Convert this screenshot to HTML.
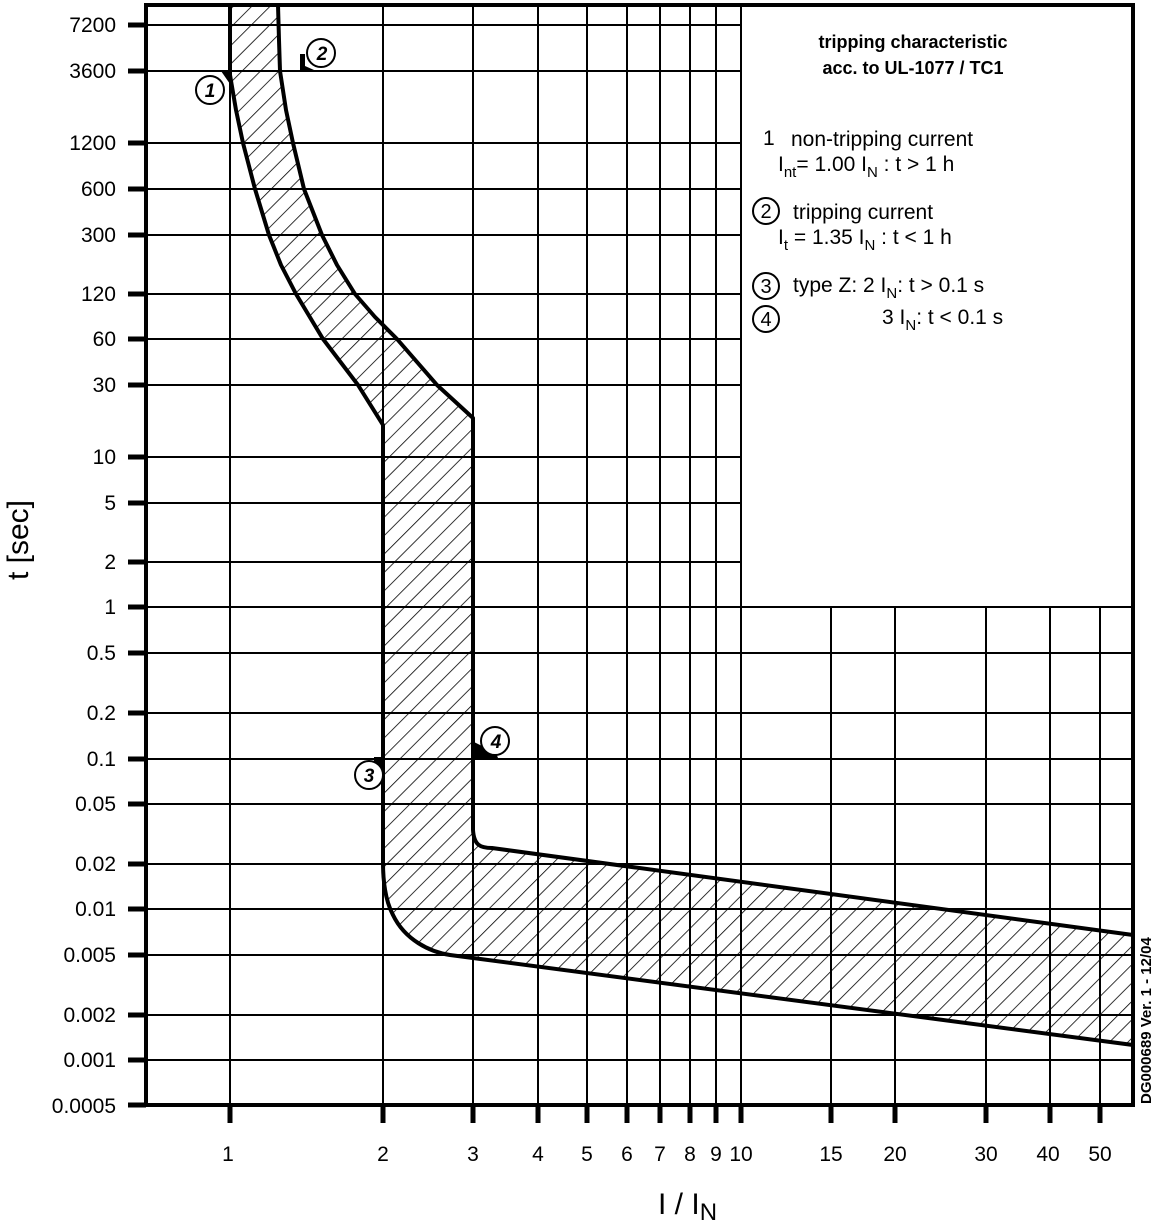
<!DOCTYPE html>
<html><head><meta charset="utf-8"><style>
html,body{margin:0;padding:0;background:#fff;}
svg{display:block;}
text{font-family:"Liberation Sans",sans-serif;fill:#000;}
</style></head><body>
<svg width="1153" height="1223" viewBox="0 0 1153 1223" xmlns="http://www.w3.org/2000/svg">
<defs>
<pattern id="h" patternUnits="userSpaceOnUse" width="13" height="13" patternTransform="rotate(45)">
<line x1="0" y1="0" x2="0" y2="13" stroke="#000" stroke-width="1.6"/>
</pattern>
</defs>
<g stroke="#000" stroke-width="2">
<line x1="146" y1="25" x2="741" y2="25"/>
<line x1="146" y1="71" x2="741" y2="71"/>
<line x1="146" y1="143" x2="741" y2="143"/>
<line x1="146" y1="189" x2="741" y2="189"/>
<line x1="146" y1="235" x2="741" y2="235"/>
<line x1="146" y1="294" x2="741" y2="294"/>
<line x1="146" y1="339" x2="741" y2="339"/>
<line x1="146" y1="385" x2="741" y2="385"/>
<line x1="146" y1="457" x2="741" y2="457"/>
<line x1="146" y1="503" x2="741" y2="503"/>
<line x1="146" y1="562" x2="741" y2="562"/>
<line x1="146" y1="607" x2="1133" y2="607"/>
<line x1="146" y1="653" x2="1133" y2="653"/>
<line x1="146" y1="713" x2="1133" y2="713"/>
<line x1="146" y1="759" x2="1133" y2="759"/>
<line x1="146" y1="804" x2="1133" y2="804"/>
<line x1="146" y1="864" x2="1133" y2="864"/>
<line x1="146" y1="909" x2="1133" y2="909"/>
<line x1="146" y1="955" x2="1133" y2="955"/>
<line x1="146" y1="1015" x2="1133" y2="1015"/>
<line x1="146" y1="1060" x2="1133" y2="1060"/>
<line x1="230" y1="5" x2="230" y2="1105"/>
<line x1="383" y1="5" x2="383" y2="1105"/>
<line x1="473" y1="5" x2="473" y2="1105"/>
<line x1="538" y1="5" x2="538" y2="1105"/>
<line x1="587" y1="5" x2="587" y2="1105"/>
<line x1="627" y1="5" x2="627" y2="1105"/>
<line x1="660" y1="5" x2="660" y2="1105"/>
<line x1="690" y1="5" x2="690" y2="1105"/>
<line x1="716" y1="5" x2="716" y2="1105"/>
<line x1="741" y1="5" x2="741" y2="1105"/>
<line x1="831" y1="607" x2="831" y2="1105"/>
<line x1="895" y1="607" x2="895" y2="1105"/>
<line x1="986" y1="607" x2="986" y2="1105"/>
<line x1="1050" y1="607" x2="1050" y2="1105"/>
<line x1="1100" y1="607" x2="1100" y2="1105"/>
</g>
<path d="M278,5 L279,40 L280,71 L286,110 L293,143 L304,189 L322,235 L337,265 L355,294 L375,317 L397,339 L437,385 L473,418 L473,830 C474,845 480,848 492,848 L1133,935 L1133,1045 L450,955 C430,952 405,940 393,915 C385,900 383,880 383,862 L383,425 L358,385 L323,339 L296,294 L281,265 L269,235 L255,189 L243,143 L236,110 L230,75 L230,5 Z" fill="url(#h)" stroke="none"/>
<path d="M278,5 L279,40 L280,71 L286,110 L293,143 L304,189 L322,235 L337,265 L355,294 L375,317 L397,339 L437,385 L473,418 L473,830 C474,845 480,848 492,848 L1133,935" fill="none" stroke="#000" stroke-width="4" stroke-linejoin="round"/>
<path d="M230,5 L230,75 L236,110 L243,143 L255,189 L269,235 L281,265 L296,294 L323,339 L358,385 L383,425 L383,862 C383,880 385,900 393,915 C405,940 430,952 450,955 L1133,1045" fill="none" stroke="#000" stroke-width="4" stroke-linejoin="round"/>
<rect x="146" y="5" width="987" height="1100" fill="none" stroke="#000" stroke-width="4"/>
<g stroke="#000" stroke-width="5">
<line x1="128" y1="25" x2="146" y2="25"/><line x1="128" y1="71" x2="146" y2="71"/>
<line x1="128" y1="143" x2="146" y2="143"/><line x1="128" y1="189" x2="146" y2="189"/>
<line x1="128" y1="235" x2="146" y2="235"/><line x1="128" y1="294" x2="146" y2="294"/>
<line x1="128" y1="339" x2="146" y2="339"/><line x1="128" y1="385" x2="146" y2="385"/>
<line x1="128" y1="457" x2="146" y2="457"/><line x1="128" y1="503" x2="146" y2="503"/>
<line x1="128" y1="562" x2="146" y2="562"/><line x1="128" y1="607" x2="146" y2="607"/>
<line x1="128" y1="653" x2="146" y2="653"/><line x1="128" y1="713" x2="146" y2="713"/>
<line x1="128" y1="759" x2="146" y2="759"/><line x1="128" y1="804" x2="146" y2="804"/>
<line x1="128" y1="864" x2="146" y2="864"/><line x1="128" y1="909" x2="146" y2="909"/>
<line x1="128" y1="955" x2="146" y2="955"/><line x1="128" y1="1015" x2="146" y2="1015"/>
<line x1="128" y1="1060" x2="146" y2="1060"/><line x1="128" y1="1105" x2="146" y2="1105"/>
</g>
<g stroke="#000" stroke-width="5">
<line x1="230" y1="1105" x2="230" y2="1123"/><line x1="383" y1="1105" x2="383" y2="1123"/>
<line x1="473" y1="1105" x2="473" y2="1123"/><line x1="538" y1="1105" x2="538" y2="1123"/>
<line x1="587" y1="1105" x2="587" y2="1123"/><line x1="627" y1="1105" x2="627" y2="1123"/>
<line x1="660" y1="1105" x2="660" y2="1123"/><line x1="690" y1="1105" x2="690" y2="1123"/>
<line x1="716" y1="1105" x2="716" y2="1123"/><line x1="741" y1="1105" x2="741" y2="1123"/>
<line x1="831" y1="1105" x2="831" y2="1123"/><line x1="895" y1="1105" x2="895" y2="1123"/>
<line x1="986" y1="1105" x2="986" y2="1123"/><line x1="1050" y1="1105" x2="1050" y2="1123"/>
<line x1="1100" y1="1105" x2="1100" y2="1123"/>
</g>
<g font-size="21" text-anchor="end">
<text x="116" y="32">7200</text><text x="116" y="78">3600</text>
<text x="116" y="150">1200</text><text x="116" y="196">600</text>
<text x="116" y="242">300</text><text x="116" y="301">120</text>
<text x="116" y="346">60</text><text x="116" y="392">30</text>
<text x="116" y="464">10</text><text x="116" y="510">5</text>
<text x="116" y="569">2</text><text x="116" y="614">1</text>
<text x="116" y="660">0.5</text><text x="116" y="720">0.2</text>
<text x="116" y="766">0.1</text><text x="116" y="811">0.05</text>
<text x="116" y="871">0.02</text><text x="116" y="916">0.01</text>
<text x="116" y="962">0.005</text><text x="116" y="1022">0.002</text>
<text x="116" y="1067">0.001</text><text x="116" y="1113">0.0005</text>
</g>
<g font-size="21" text-anchor="middle">
<text x="228" y="1161">1</text><text x="383" y="1161">2</text><text x="473" y="1161">3</text>
<text x="538" y="1161">4</text><text x="587" y="1161">5</text><text x="627" y="1161">6</text>
<text x="660" y="1161">7</text><text x="690" y="1161">8</text><text x="716" y="1161">9</text>
<text x="741" y="1161">10</text><text x="831" y="1161">15</text><text x="895" y="1161">20</text>
<text x="986" y="1161">30</text><text x="1048" y="1161">40</text><text x="1100" y="1161">50</text>
</g>
<text x="658" y="1214" font-size="30">I / I<tspan font-size="24" dy="6">N</tspan></text>
<text transform="translate(28,540) rotate(-90)" font-size="30" text-anchor="middle">t [sec]</text>
<text transform="translate(1151,1104) rotate(-90)" font-size="15" font-weight="bold">DG000689  Ver. 1 - 12/04</text>
<g stroke="#000" stroke-width="2" fill="#fff">
<path d="M221,71 L230,71 L230,84 Z" fill="#000" stroke="none"/>
<circle cx="210" cy="90" r="14"/>
<path d="M300,54 L305,54 L305,66 L314,70 L300,70 Z" fill="#000" stroke="none"/>
<circle cx="321" cy="53" r="14"/>
<rect x="374" y="757" width="9" height="10" fill="#000" stroke="none"/>
<circle cx="369" cy="775" r="14"/>
<path d="M474,742 L474,758 L498,758 L496,753 L486,748 Z" fill="#000" stroke="none"/>
<circle cx="495" cy="741" r="14"/>
</g>
<g font-size="19" font-style="italic" font-weight="bold" text-anchor="middle">
<text x="210" y="97">1</text><text x="322" y="60">2</text>
<text x="369" y="782">3</text><text x="496" y="748">4</text>
</g>
<g>
<text x="913" y="48" font-weight="bold" text-anchor="middle" font-size="18">tripping characteristic</text>
<text x="913" y="74" font-weight="bold" text-anchor="middle" font-size="18">acc. to UL-1077 / TC1</text>
<text x="763" y="145" font-size="21">1</text>
<text x="791" y="146" font-size="21">non-tripping current</text>
<text x="778" y="171" font-size="21">I<tspan font-size="15" dy="6">nt</tspan><tspan dy="-6">= 1.00 I</tspan><tspan font-size="15" dy="6">N</tspan><tspan dy="-6"> : t &gt; 1 h</tspan></text>
<circle cx="766" cy="211" r="13" fill="none" stroke="#000" stroke-width="2"/>
<text x="766" y="218" font-size="20" text-anchor="middle">2</text>
<text x="793" y="219" font-size="21">tripping current</text>
<text x="778" y="244" font-size="21">I<tspan font-size="15" dy="6">t</tspan><tspan dy="-6"> = 1.35 I</tspan><tspan font-size="15" dy="6">N</tspan><tspan dy="-6"> : t &lt; 1 h</tspan></text>
<circle cx="766" cy="286" r="13" fill="none" stroke="#000" stroke-width="2"/>
<text x="766" y="293" font-size="20" text-anchor="middle">3</text>
<text x="793" y="292" font-size="21">type Z:  2 I<tspan font-size="15" dy="6">N</tspan><tspan dy="-6">: t &gt; 0.1 s</tspan></text>
<circle cx="766" cy="319" r="13" fill="none" stroke="#000" stroke-width="2"/>
<text x="766" y="326" font-size="20" text-anchor="middle">4</text>
<text x="882" y="324" font-size="21">3 I<tspan font-size="15" dy="6">N</tspan><tspan dy="-6">: t &lt; 0.1 s</tspan></text>
</g>
</svg>
</body></html>
